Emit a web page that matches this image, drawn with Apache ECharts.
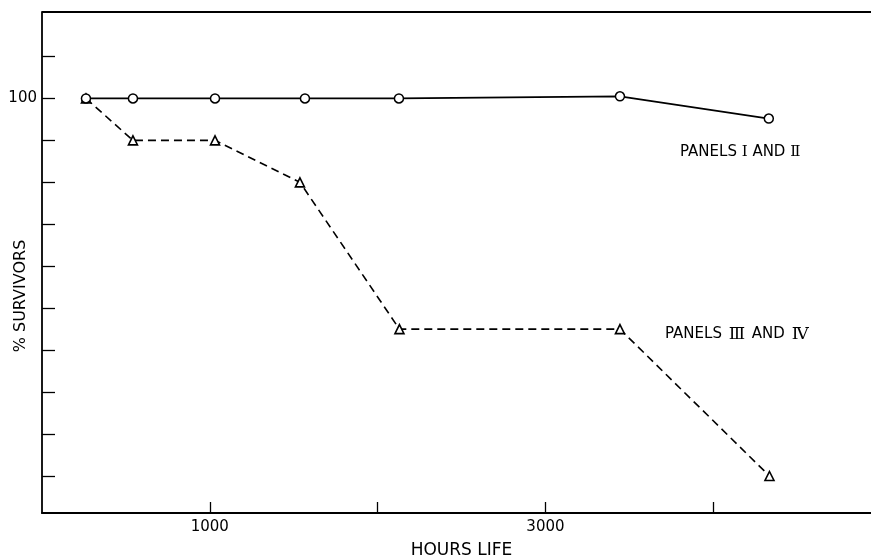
<!DOCTYPE html>
<html>
<head>
<meta charset="utf-8">
<script src="https://cdn.jsdelivr.net/npm/echarts@6/dist/echarts.min.js"></script>
<style>html,body{margin:0;padding:0;background:#fff;overflow:hidden}#c{width:871px;height:558px}</style>
</head>
<body>
<div id="c"></div>
<script>
// Data
const hoursPanels12 = [262, 542, 1031, 1567, 2127, 3444, 4331];
const survPanels12  = [100, 100, 100, 100, 100, 100.5, 95.2];
const hoursPanels34 = [262, 542, 1031, 1537, 2130, 3444, 4335];
const survPanels34  = [100, 90, 90, 80, 45, 45, 10];
const xTicks = [1000, 2000, 3000, 4000];
const xLabels = [1000, 3000];
const yTicks = [10, 20, 30, 40, 50, 60, 70, 80, 90, 100, 110];
const yLabels = [100];
const X_MAX = 4940, Y_MIN = 1.18, Y_MAX = 120.6;

const FONT = 'DejaVu Sans';
const chart = echarts.init(document.getElementById('c'), null, {renderer: 'canvas'});
const pairs = (xs, ys) => xs.map((x, i) => [x, ys[i]]);

const GL = 42, GT = 12, GR = 0, GB = 45;
const richA = {r: {fontFamily: 'DejaVu Serif', fontSize: 15, fill: '#000', color: '#000'}};
const richB = {r: {fontFamily: 'DejaVu Serif', fontSize: 17, fill: '#000', color: '#000', padding: [0, 2, 0, 2]}};

chart.setOption({
  animation: false,
  backgroundColor: '#fff',
  textStyle: {fontFamily: FONT, color: '#000'},
  grid: {show: false, left: GL, top: GT, right: GR, bottom: GB, containLabel: false, outerBoundsMode: 'none'},
  xAxis: {
    type: 'value', min: 0, max: X_MAX, position: 'bottom',
    name: 'HOURS LIFE', nameLocation: 'middle', nameGap: 29,
    nameTextStyle: {fontFamily: FONT, fontSize: 17, color: '#000', padding: [0, 0, 0, 10]},
    axisLine: {show: true, onZero: false, lineStyle: {color: '#000', width: 1.8}},
    axisTick: {show: true, inside: true, length: 11, customValues: xTicks, lineStyle: {color: '#000', width: 1.3}},
    axisLabel: {show: true, customValues: xLabels, margin: 7, fontFamily: FONT, fontSize: 15, color: '#000', formatter: v => String(v)},
    splitLine: {show: false}
  },
  yAxis: {
    type: 'value', min: Y_MIN, max: Y_MAX,
    axisLine: {show: true, onZero: false, lineStyle: {color: '#000', width: 1.8}},
    axisTick: {show: true, inside: true, length: 13, customValues: yTicks, lineStyle: {color: '#000', width: 1.3}},
    axisLabel: {show: true, customValues: yLabels, margin: 5, fontFamily: FONT, fontSize: 15, color: '#000', formatter: v => String(v)},
    splitLine: {show: false}
  },
  series: [{
    type: 'line', name: 'PANELS III AND IV',
    data: pairs(hoursPanels34, survPanels34),
    symbol: 'triangle', symbolSize: 9,
    itemStyle: {color: '#fff', borderColor: '#000', borderWidth: 1.6},
    lineStyle: {color: '#000', width: 1.6, type: [8, 5]},
    z: 2
  }, {
    type: 'line', name: 'PANELS I AND II',
    data: pairs(hoursPanels12, survPanels12),
    symbol: 'circle', symbolSize: 9,
    itemStyle: {color: '#fff', borderColor: '#000', borderWidth: 1.5},
    lineStyle: {color: '#000', width: 1.7},
    z: 3
  }],
  graphic: [{
    type: 'line', shape: {x1: GL, y1: GT, x2: 871 - GR, y2: GT},
    style: {stroke: '#000', lineWidth: 1.8}
  }, {
    type: 'text', left: 680, top: 145,
    style: {text: 'PANELS {r|I} AND {r|Ⅱ}', font: '15px "DejaVu Sans"', fill: '#000', rich: richA}
  }, {
    type: 'text', left: 665, top: 326,
    style: {text: 'PANELS {r|Ⅲ} AND {r|Ⅳ}', font: '15px "DejaVu Sans"', fill: '#000', rich: richB}
  }, {
    type: 'text', x: 21, y: 296, rotation: Math.PI / 2,
    style: {text: '% SURVIVORS', font: '16px "DejaVu Sans"', fill: '#000', align: 'center', verticalAlign: 'middle'}
  }]
});
</script>
</body>
</html>
